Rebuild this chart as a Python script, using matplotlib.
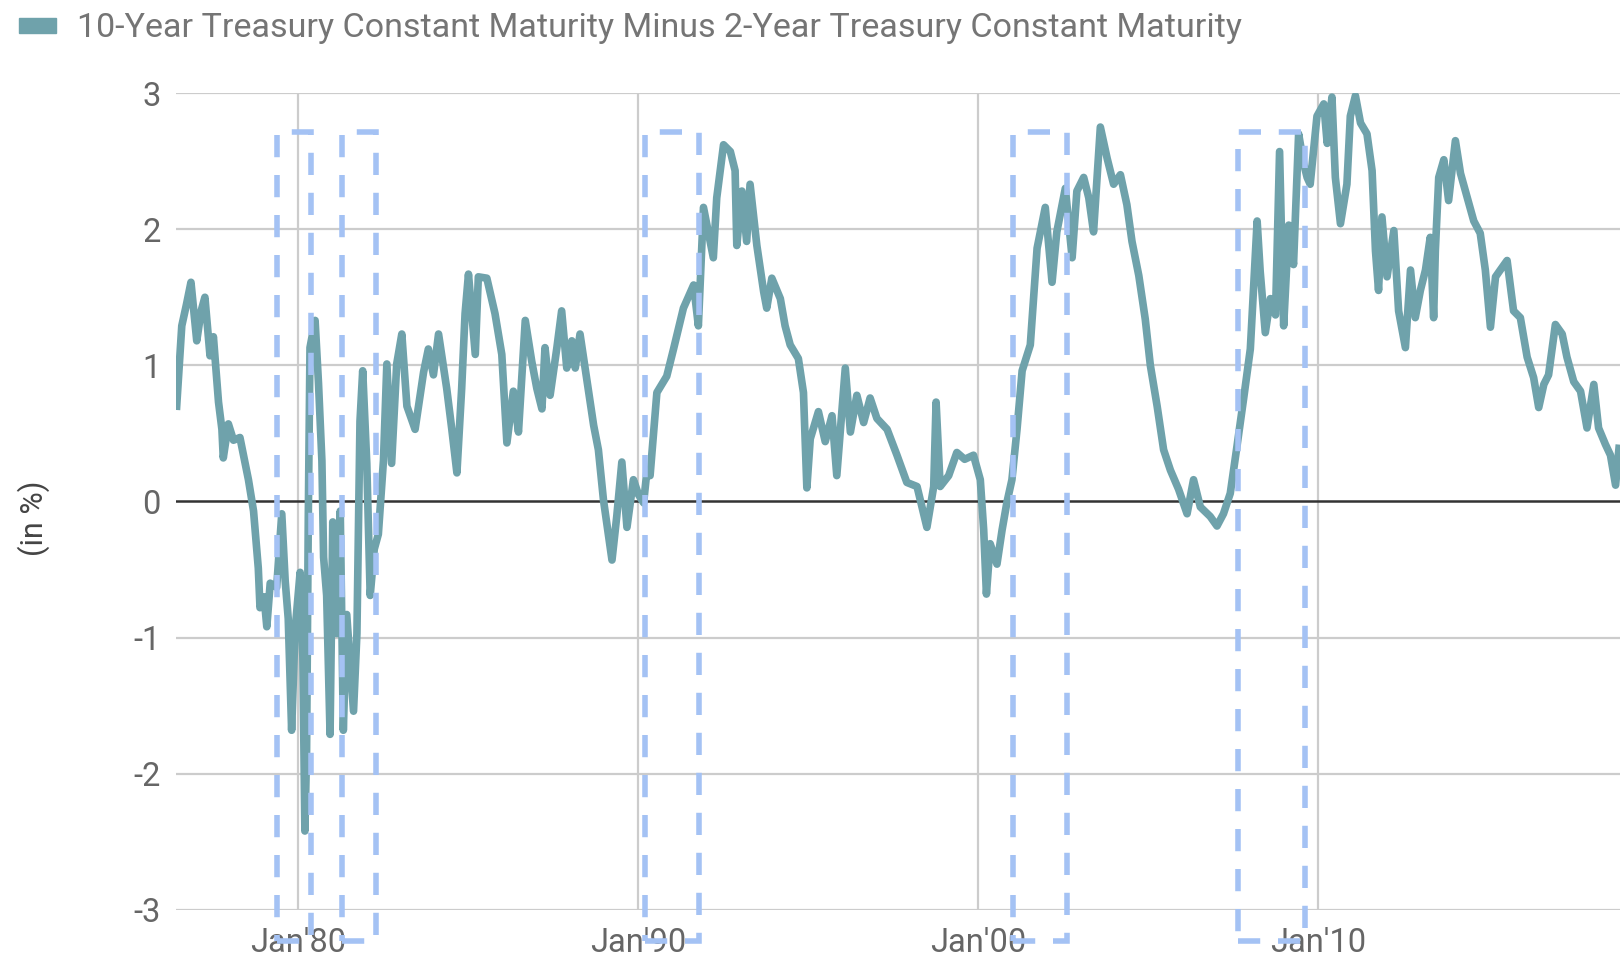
import matplotlib
matplotlib.use("Agg")
import matplotlib.pyplot as plt
from matplotlib.patches import Rectangle, Patch

plt.rcParams['font.family'] = ['Roboto', 'DejaVu Sans']

# spread 10y - 2y (decimal year, percent)
years = [
    1976.43, 1976.58, 1976.72, 1976.85, 1977.02, 1977.15, 1977.26, 1977.41, 1977.51, 1977.66,
    1977.76, 1977.80, 1977.95, 1978.10, 1978.29, 1978.54, 1978.69, 1978.83, 1978.88, 1979.00,
    1979.08, 1979.18, 1979.37, 1979.52, 1979.62, 1979.71, 1979.81, 1979.91, 1980.06, 1980.14,
    1980.20, 1980.25, 1980.30, 1980.35, 1980.50, 1980.60, 1980.70, 1980.75, 1980.84, 1980.94,
    1981.02, 1981.14, 1981.24, 1981.33, 1981.43, 1981.63, 1981.73, 1981.82, 1981.90, 1982.02,
    1982.12, 1982.24, 1982.36, 1982.51, 1982.61, 1982.75, 1982.90, 1983.05, 1983.20, 1983.44,
    1983.69, 1983.83, 1983.98, 1984.13, 1984.37, 1984.52, 1984.67, 1984.81, 1984.91, 1985.01,
    1985.21, 1985.30, 1985.55, 1985.79, 1985.99, 1986.14, 1986.33, 1986.48, 1986.68, 1986.87,
    1987.02, 1987.17, 1987.26, 1987.41, 1987.61, 1987.75, 1987.90, 1988.05, 1988.15, 1988.29,
    1988.44, 1988.69, 1988.83, 1988.98, 1989.23, 1989.37, 1989.52, 1989.67, 1989.86, 1990.01,
    1990.16, 1990.26, 1990.35, 1990.55, 1990.84, 1991.04, 1991.33, 1991.63, 1991.77, 1991.92,
    1992.21, 1992.31, 1992.51, 1992.71, 1992.85, 1992.90, 1993.05, 1993.19, 1993.29, 1993.49,
    1993.69, 1993.78, 1993.93, 1994.18, 1994.32, 1994.47, 1994.71, 1994.86, 1994.96, 1995.06,
    1995.30, 1995.50, 1995.70, 1995.84, 1996.09, 1996.24, 1996.43, 1996.63, 1996.82, 1997.02,
    1997.32, 1997.61, 1997.90, 1998.20, 1998.49, 1998.69, 1998.76, 1998.88, 1999.13, 1999.37,
    1999.60, 1999.86, 2000.06, 2000.16, 2000.24, 2000.35, 2000.55, 2000.70, 2000.84, 2000.99,
    2001.14, 2001.29, 2001.53, 2001.73, 2001.97, 2002.17, 2002.31, 2002.56, 2002.76, 2002.90,
    2003.10, 2003.25, 2003.39, 2003.59, 2003.79, 2003.98, 2004.18, 2004.37, 2004.52, 2004.72,
    2004.91, 2005.06, 2005.26, 2005.45, 2005.65, 2005.89, 2006.14, 2006.33, 2006.53, 2006.82,
    2007.02, 2007.21, 2007.41, 2007.61, 2007.80, 2008.00, 2008.08, 2008.20, 2008.29, 2008.44,
    2008.59, 2008.74, 2008.86, 2008.98, 2009.13, 2009.27, 2009.42, 2009.57, 2009.67, 2009.76,
    2009.96, 2010.16, 2010.26, 2010.40, 2010.50, 2010.65, 2010.84, 2010.94, 2011.09, 2011.24,
    2011.43, 2011.58, 2011.68, 2011.77, 2011.87, 2012.02, 2012.22, 2012.36, 2012.56, 2012.71,
    2012.85, 2013.00, 2013.15, 2013.29, 2013.39, 2013.44, 2013.54, 2013.69, 2013.83, 2014.03,
    2014.18, 2014.37, 2014.57, 2014.76, 2014.91, 2015.06, 2015.21, 2015.35, 2015.55, 2015.74,
    2015.94, 2016.14, 2016.33, 2016.48, 2016.63, 2016.77, 2016.97, 2017.17, 2017.31, 2017.51,
    2017.71, 2017.90, 2018.10, 2018.24, 2018.44, 2018.59, 2018.74, 2018.84,
]
spread = [
    0.70, 1.29, 1.45, 1.61, 1.18, 1.40, 1.50, 1.07, 1.21, 0.73,
    0.53, 0.32, 0.57, 0.45, 0.47, 0.16, -0.07, -0.49, -0.78, -0.70,
    -0.92, -0.60, -0.63, -0.09, -0.58, -0.86, -1.68, -0.95, -0.52, -1.14,
    -2.42, -1.83, -0.12, 1.13, 1.33, 0.87, 0.30, -0.41, -0.69, -1.71,
    -0.15, -0.97, -0.07, -1.68, -0.83, -1.54, -0.97, 0.59, 0.96, 0.28,
    -0.69, -0.35, -0.24, 0.30, 1.01, 0.28, 1.01, 1.23, 0.70, 0.53,
    0.95, 1.12, 0.93, 1.23, 0.83, 0.53, 0.21, 0.83, 1.38, 1.67,
    1.08, 1.65, 1.64, 1.38, 1.08, 0.43, 0.81, 0.51, 1.33, 1.03,
    0.83, 0.68, 1.13, 0.78, 1.13, 1.40, 0.98, 1.18, 0.98, 1.23,
    0.98, 0.56, 0.38, 0.01, -0.43, -0.11, 0.29, -0.19, 0.16, 0.05,
    -0.01, 0.23, 0.19, 0.80, 0.92, 1.12, 1.42, 1.59, 1.29, 2.16,
    1.79, 2.23, 2.62, 2.57, 2.43, 1.88, 2.28, 1.91, 2.33, 1.88,
    1.54, 1.42, 1.64, 1.49, 1.29, 1.15, 1.05, 0.80, 0.10, 0.46,
    0.66, 0.44, 0.63, 0.19, 0.98, 0.51, 0.78, 0.58, 0.76, 0.61,
    0.53, 0.34, 0.14, 0.11, -0.19, 0.11, 0.73, 0.11, 0.19, 0.36,
    0.31, 0.34, 0.16, -0.21, -0.68, -0.31, -0.46, -0.21, -0.01, 0.16,
    0.53, 0.96, 1.15, 1.86, 2.16, 1.61, 1.98, 2.30, 1.79, 2.28,
    2.38, 2.23, 1.98, 2.75, 2.52, 2.33, 2.40, 2.18, 1.91, 1.66,
    1.34, 1.00, 0.70, 0.38, 0.23, 0.09, -0.09, 0.16, -0.04, -0.11,
    -0.18, -0.09, 0.06, 0.41, 0.75, 1.12, 1.49, 2.06, 1.69, 1.24,
    1.49, 1.37, 2.57, 1.29, 2.03, 1.74, 2.70, 2.48, 2.38, 2.33,
    2.83, 2.92, 2.63, 2.97, 2.38, 2.04, 2.33, 2.83, 2.98, 2.78,
    2.70, 2.43, 1.84, 1.55, 2.09, 1.65, 1.99, 1.40, 1.13, 1.70,
    1.35, 1.55, 1.70, 1.94, 1.35, 1.84, 2.38, 2.51, 2.21, 2.65,
    2.41, 2.24, 2.06, 1.97, 1.70, 1.28, 1.65, 1.70, 1.77, 1.40,
    1.35, 1.06, 0.91, 0.69, 0.86, 0.93, 1.30, 1.23, 1.06, 0.88,
    0.81, 0.54, 0.86, 0.54, 0.42, 0.34, 0.12, 0.39,
]

# recession boxes (start, end) in decimal years
rec_start = [1979.38, 1981.30, 1990.21, 2001.03, 2007.65]
rec_end = [1980.38, 1982.30, 1991.80, 2002.62, 2009.62]
box_top = 2.71
box_bottom = -3.23

xtick_pos = [1980, 1990, 2000, 2010]
xtick_labels = ["Jan'80", "Jan'90", "Jan'00", "Jan'10"]
ytick_pos = [-3, -2, -1, 0, 1, 2, 3]

line_color = '#6fa2ab'
box_color = '#a4c2f4'

fig = plt.figure(figsize=(16.23, 9.58), dpi=100)
ax = fig.add_axes([176 / 1623, 1 - 910 / 958, (1620 - 176) / 1623, (910 - 93) / 958])

ax.set_xlim(1976.41, 2018.87)
ax.set_ylim(-3, 3)

# grid
for y in ytick_pos:
    if y == 0:
        continue
    ax.axhline(y, color='#cccccc', lw=1.6, zorder=1)
for x in xtick_pos:
    ax.axvline(x, color='#cccccc', lw=1.6, zorder=1)
ax.axhline(0, color='#333333', lw=1.8, zorder=2)

ax.plot(years, spread, color=line_color, lw=5.5, solid_joinstyle='round', zorder=3)

for s, e in zip(rec_start, rec_end):
    r = Rectangle((s, box_bottom), e - s, box_top - box_bottom, fill=False,
                  edgecolor=box_color, lw=4.0, linestyle=(0, (4.0, 3.2)),
                  clip_on=False, zorder=4)
    ax.add_patch(r)

ax.set_xticks(xtick_pos)
ax.set_xticklabels(xtick_labels)
ax.set_yticks(ytick_pos)
ax.set_yticklabels([str(v) for v in ytick_pos])
ax.tick_params(axis='both', length=0, labelsize=23.5, colors='#666666')
ax.tick_params(axis='y', pad=11)
ax.tick_params(axis='x', pad=12)
for sp in ax.spines.values():
    sp.set_visible(False)

ax.set_ylabel('(in %)', fontsize=22, color='#444444')
ax.yaxis.set_label_coords(-0.087, 0.48)

leg = fig.legend(handles=[Patch(color=line_color)],
                 labels=['10-Year Treasury Constant Maturity Minus 2-Year Treasury Constant Maturity'],
                 loc='upper left', bbox_to_anchor=(-0.003, 1.012), frameon=False,
                 fontsize=24.5, handlelength=1.1, handleheight=0.3, handletextpad=0.6,
                 borderaxespad=0.3)
for t in leg.get_texts():
    t.set_color('#757575')

fig.savefig('out.png', dpi=100)
